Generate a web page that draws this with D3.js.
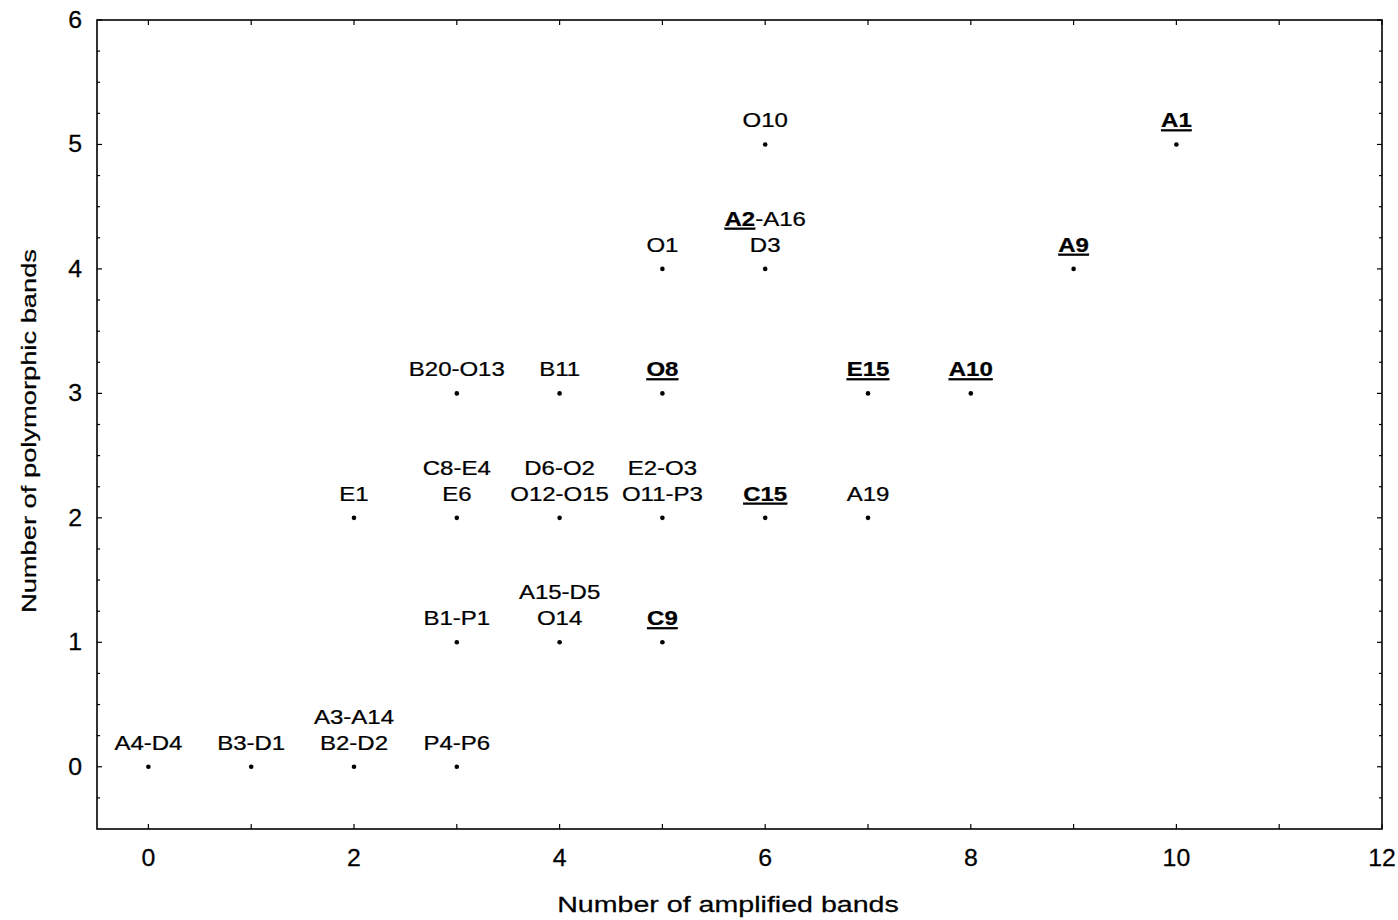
<!DOCTYPE html>
<html>
<head>
<meta charset="utf-8">
<script src="https://cdn.jsdelivr.net/npm/d3@7"></script>
<style>
  body { margin: 0; background: #fff; }
  text { font-family: "Liberation Sans", Arial, sans-serif; fill: #000; stroke: #000; stroke-width: 0.25px; }
</style>
</head>
<body>
<script>
// amplified bands (x), polymorphic bands (y), label lines; "*" marks bold+underlined part
var ampBands  = [0, 1, 2, 3, 3, 4, 5, 2, 3, 4, 5, 6, 7, 3, 4, 5, 7, 8, 5, 6, 9, 6, 10];
var polyBands = [0, 0, 0, 0, 1, 1, 1, 2, 2, 2, 2, 2, 2, 3, 3, 3, 3, 3, 4, 4, 4, 5, 5];
var labels = [
  ["A4-D4"], ["B3-D1"], ["A3-A14", "B2-D2"], ["P4-P6"],
  ["B1-P1"], ["A15-D5", "O14"], ["*C9"],
  ["E1"], ["C8-E4", "E6"], ["D6-O2", "O12-O15"], ["E2-O3", "O11-P3"], ["*C15"], ["A19"],
  ["B20-O13"], ["B11"], ["*O8"], ["*E15"], ["*A10"],
  ["O1"], ["*A2|-A16", "D3"], ["*A9"],
  ["O10"], ["*A1"]
];
var xTicks = [0, 2, 4, 6, 8, 10, 12];
var yTicks = [0, 1, 2, 3, 4, 5, 6];

var W = 1398, H = 920;
var svg = d3.select("body").append("svg").attr("width", W).attr("height", H);

var x = d3.scaleLinear().domain([-0.5, 12]).range([97, 1382]);
var y = d3.scaleLinear().domain([-0.5, 6]).range([829, 20]);

// frame
svg.append("rect")
  .attr("x", x(-0.5)).attr("y", y(6))
  .attr("width", x(12) - x(-0.5)).attr("height", y(-0.5) - y(6))
  .attr("fill", "none").attr("stroke", "#000").attr("stroke-width", 1.6);

// inner ticks
var xMinor = d3.range(0, 12.01, 1);
var yMinor = d3.range(-0.25, 6.01, 0.25);
var tk = svg.append("g").attr("stroke", "#000").attr("stroke-width", 1.2);
xMinor.forEach(function (v) {
  tk.append("line").attr("x1", x(v)).attr("x2", x(v)).attr("y1", y(-0.5)).attr("y2", y(-0.5) - 5);
  tk.append("line").attr("x1", x(v)).attr("x2", x(v)).attr("y1", y(6)).attr("y2", y(6) + 5);
});
yMinor.forEach(function (v) {
  var len = (v % 1 === 0) ? 5 : 3;
  tk.append("line").attr("x1", x(-0.5)).attr("x2", x(-0.5) + len).attr("y1", y(v)).attr("y2", y(v));
  tk.append("line").attr("x1", x(12)).attr("x2", x(12) - len).attr("y1", y(v)).attr("y2", y(v));
});

// tick labels (source font is a bit wider than Liberation Sans)
svg.append("g").selectAll("text").data(xTicks).enter().append("text")
  .attr("transform", function (d) { return "translate(" + x(d) + ",866) scale(1.08,1)"; })
  .attr("text-anchor", "middle").style("font-size", "23px")
  .text(function (d) { return d; });
svg.append("g").selectAll("text").data(yTicks).enter().append("text")
  .attr("transform", function (d) { return "translate(82," + (y(d) + 8) + ") scale(1.08,1)"; })
  .attr("text-anchor", "end").style("font-size", "23px")
  .text(function (d) { return d; });

// axis titles
svg.append("text").attr("transform", "translate(728,912) scale(1.3,1)").attr("text-anchor", "middle")
  .style("font-size", "22px").text("Number of amplified bands");
svg.append("text").attr("transform", "translate(36,431) rotate(-90) scale(1.3,1)").attr("text-anchor", "middle")
  .style("font-size", "21px").text("Number of polymorphic bands");

// points
svg.append("g").selectAll("circle").data(ampBands).enter().append("circle")
  .attr("cx", function (d) { return x(d); })
  .attr("cy", function (d, i) { return y(polyBands[i]); })
  .attr("r", 2.3).attr("fill", "#000");

// labels
labels.forEach(function (lines, i) {
  var px = x(ampBands[i]), py = y(polyBands[i]);
  var n = lines.length;
  lines.forEach(function (ln, j) {
    var t = svg.append("text")
      .attr("transform", "translate(" + px + "," + (py - 17 - (n - 1 - j) * 26) + ") scale(1.2,1)")
      .attr("text-anchor", "middle").style("font-size", "20px");
    if (ln.charAt(0) === "*") {
      var parts = ln.slice(1).split("|");
      t.append("tspan").style("font-weight", "bold").style("text-decoration", "underline").text(parts[0]);
      if (parts[1]) t.append("tspan").text(parts[1]);
    } else {
      t.text(ln);
    }
  });
});
</script>
</body>
</html>
